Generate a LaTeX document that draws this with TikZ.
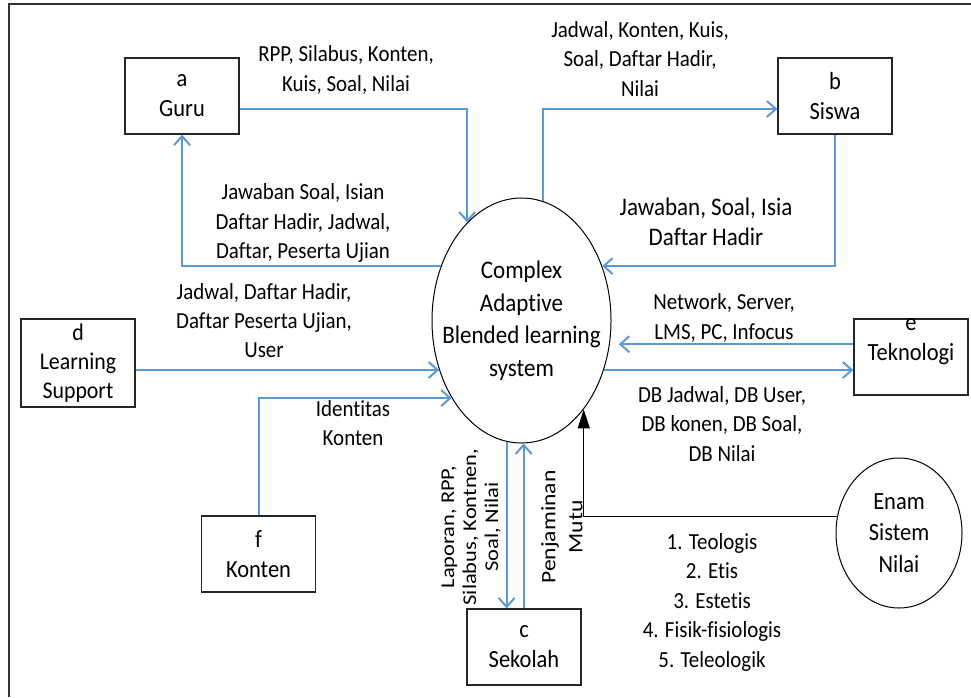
\documentclass[tikz,border=0pt]{standalone}
\usepackage{fontspec}
\setmainfont{Carlito}[Ligatures=NoCommon, FakeStretch=0.91]
\newfontfamily\rotfont{Carlito}[Ligatures=NoCommon, FakeStretch=1.15]
\usepackage{xcolor}
\usepackage{tikz}
\usetikzlibrary{calc, arrows.meta, shapes.geometric}
\definecolor{flowblue}{RGB}{91, 155, 213}

\begin{document}
\begin{tikzpicture}[x=1pt, y=-1pt,
        entity/.style={draw=black!85, line width=1.3pt, minimum width=114pt, minimum height=76pt, inner sep=0pt, align=center, font=\fontsize{24.7}{30}\selectfont},
        proc/.style={ellipse, draw, line width=1pt, inner sep=0pt, align=center},
        lbl/.style={inner sep=0pt, align=center, font=\fontsize{23}{29.5}\selectfont},
        flow/.style={draw=flowblue, line width=2pt, -{Straight Barb[length=9pt, width=16pt]}},
        mutu/.style={draw=black, line width=1.2pt, -{Triangle[length=19pt, width=12pt]}}]
        \useasboundingbox (0,0) rectangle (971,697);
        \draw[black!80, line width=1.5pt] (9,697) -- (9,4) -- (971,4);

        \node[proc, minimum width=179pt, minimum height=245pt, inner xsep=-22pt, font=\fontsize{25.3}{32.5}\selectfont] (sys) at (521.5,320.5) {Complex\\Adaptive\\Blended learning\\system};
        \node[proc, minimum width=126pt, minimum height=150pt, font=\fontsize{24.7}{31.5}\selectfont] (enam) at (899,533) {Enam\\Sistem\\Nilai};

        \node[entity] (guru) at (182,96) {a\\Guru};
        \node[entity] (siswa) at (835,96) {b\\Siswa};
        \node[entity, minimum height=88pt, font=\fontsize{24}{29}\selectfont] (support) at (78,363) {d\\Learning\\Support};
        \node[entity, label={[align=center, font=\fontsize{24.7}{30}\selectfont, yshift=15pt]center:{e\\Teknologi}}] (tek) at (911,357) {};
        \node[entity] (konten) at (258.5,554) {f\\Konten};
        \node[entity] (sekolah) at (524,647) {c\\Sekolah};

        \node[lbl] (lrpp) at (346,70) {RPP, Silabus, Konten,\\Kuis, Soal, Nilai};
        \node[lbl] (ljawab) at (303,223) {Jawaban Soal, Isian\\Daftar Hadir, Jadwal,\\Daftar, Peserta Ujian};
        \node[lbl] (ljadwal) at (640,59) {Jadwal, Konten, Kuis,\\Soal, Daftar Hadir,\\Nilai};
        \node[lbl, font=\fontsize{25.3}{30}\selectfont] (lisian) at (706,222) {Jawaban, Soal, Isia\\Daftar Hadir};
        \node[lbl, font=\fontsize{23}{29}\selectfont] (luser) at (264,321) {Jadwal, Daftar Hadir,\\Daftar Peserta Ujian,\\User};
        \node[lbl] (lident) at (353,423) {Identitas\\Konten};
        \node[lbl] (lnet) at (724,318) {Network, Server,\\LMS, PC, Infocus};
        \node[lbl] (ldb) at (722,424) {DB Jadwal, DB User,\\DB konen, DB Soal,\\DB Nilai};
        \node[lbl, rotate=90, font=\rotfont\fontsize{19.5}{22}\selectfont] (llapor) at (471,527) {Laporan, RPP,\\Silabus, Kontnen,\\Soal, Nilai};
        \node[lbl, rotate=90, font=\rotfont\fontsize{20.5}{27}\selectfont] (lmutu) at (562,527) {Penjaminan\\Mutu};
        \node[lbl] (lnilai) at (712,602) {1. Teologis\\2. Etis\\3. Estetis\\4. Fisik-fisiologis\\5. Teleologik};

        \draw[flow] ($(guru.east)+(0,13)$) -| (sys.119);
        \draw[flow] (sys.146) -| (guru.south);
        \draw[flow] (sys.80) |- ($(siswa.west)+(0,13)$);
        \draw[flow] (siswa.south) |- (sys.34);
        \draw[flow] (sys.211 -| support.east) -- (sys.211);
        \draw[flow] (konten.north) |- (sys.228);
        \draw[flow, shorten >=9pt] (sys.345 -| tek.west) -- (sys.345);
        \draw[flow] (sys.329) -- (sys.329 -| tek.west);
        \draw[flow] (sys.263) -- (sys.263 |- sekolah.north);
        \draw[flow] (sys.271 |- sekolah.north) -- (sys.271);
        \draw[mutu] (enam.165) -| (sys.305);
    \end{tikzpicture}
\end{document}
